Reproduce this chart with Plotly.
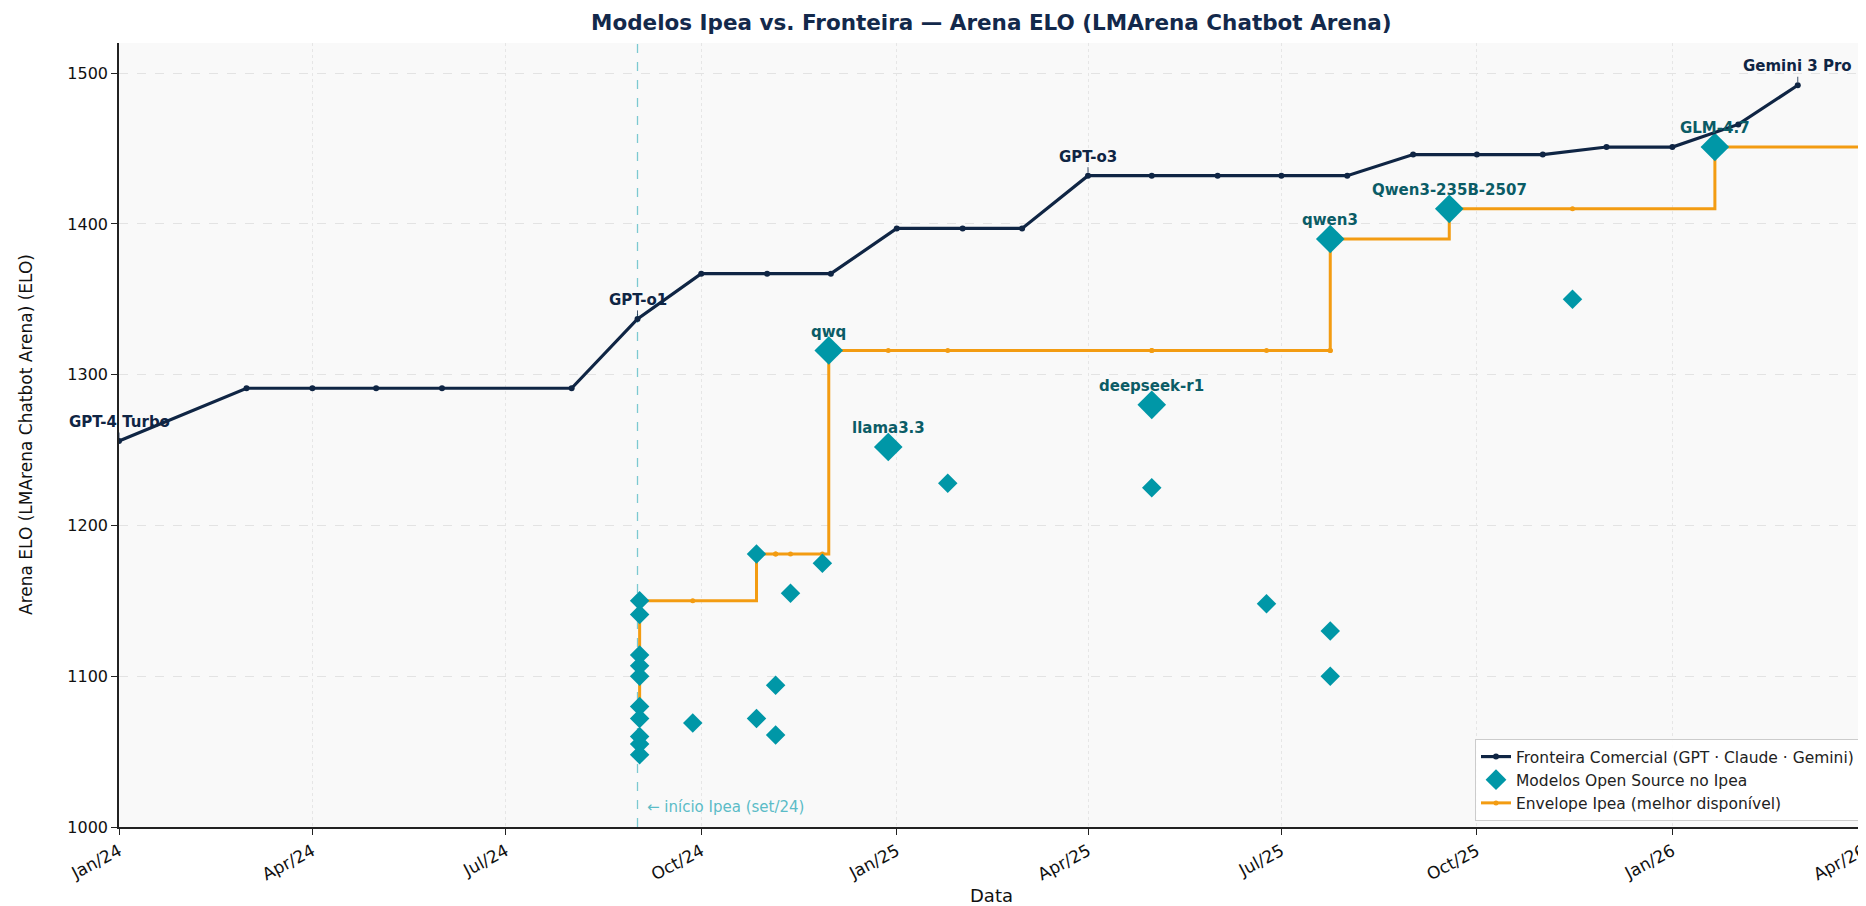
import plotly.graph_objects as go
import pandas as pd

# ---------------- data ----------------
chart_title = "Modelos Ipea vs. Fronteira — Arena ELO (LMArena Chatbot Arena)"
x_title = "Data"
y_title = "Arena ELO (LMArena Chatbot Arena) (ELO)"

frontier_dates = ["2024-01-01", "2024-03-01", "2024-04-01", "2024-05-01", "2024-06-01",
                  "2024-08-01", "2024-09-01", "2024-10-01", "2024-11-01", "2024-12-01",
                  "2025-01-01", "2025-02-01", "2025-03-01", "2025-04-01", "2025-05-01",
                  "2025-06-01", "2025-07-01", "2025-08-01", "2025-09-01", "2025-10-01",
                  "2025-11-01", "2025-12-01", "2026-01-01", "2026-02-01", "2026-03-01"]
frontier_elo = [1256, 1291, 1291, 1291, 1291,
                1291, 1337, 1367, 1367, 1367,
                1397, 1397, 1397, 1432, 1432,
                1432, 1432, 1432, 1446, 1446,
                1446, 1451, 1451, 1466, 1492]
frontier_label_dates = ["2024-01-01", "2024-09-01", "2025-04-01", "2026-03-01"]
frontier_label_names = ["GPT-4 Turbo", "GPT-o1", "GPT-o3", "Gemini 3 Pro"]

ipea_dates = ["2024-09-02", "2024-09-02", "2024-09-02", "2024-09-02", "2024-09-02",
              "2024-09-02", "2024-09-02", "2024-09-02", "2024-09-02", "2024-09-02",
              "2024-09-27", "2024-10-27", "2024-10-27", "2024-11-05", "2024-11-05",
              "2024-11-12", "2024-11-27", "2024-11-30", "2024-12-28", "2025-01-25",
              "2025-05-01", "2025-05-01", "2025-06-24", "2025-07-24", "2025-07-24",
              "2025-07-24", "2025-09-18", "2025-11-15", "2026-01-21"]
ipea_elo = [1080, 1150, 1141, 1114, 1107,
            1100, 1072, 1060, 1055, 1048,
            1069, 1181, 1072, 1094, 1061,
            1155, 1175, 1316, 1252, 1228,
            1280, 1225, 1148, 1130, 1100,
            1390, 1410, 1350, 1451]
ipea_names = ["", "", "", "", "",
              "", "", "", "", "",
              "", "", "", "", "",
              "", "", "qwq", "llama3.3", "",
              "deepseek-r1", "", "", "", "",
              "qwen3", "Qwen3-235B-2507", "", "GLM-4.7"]

ipea_start = "2024-09-01"
ipea_start_text = "← início Ipea (set/24)"
x_range = ["2024-01-01", "2026-04-01 04:00"]
x_tickvals = ["2024-01-01", "2024-04-01", "2024-07-01", "2024-10-01", "2025-01-01",
              "2025-04-01", "2025-07-01", "2025-10-01", "2026-01-01", "2026-04-01"]
x_ticktext = ["Jan/24", "Apr/24", "Jul/24", "Oct/24", "Jan/25",
              "Apr/25", "Jul/25", "Oct/25", "Jan/26", "Apr/26"]
y_tickvals = [1000, 1100, 1200, 1300, 1400, 1500]

# ---------------- styles ----------------
NAVY = "#0f2544"
TEAL = "#0097a7"
TEAL_TXT = "#0b5c66"
ORANGE = "#f39c12"
FONT = "DejaVu Sans"

W, H = 1858, 898            # page body has an 8px margin
ML, MR, MT, MB = 111, 2, 35, 79
PW, PH = W - ML - MR, H - MT - MB

# envelope = running best of Ipea models (post-step), extended to the axis end
ipea_df = pd.DataFrame({"date": pd.to_datetime(ipea_dates), "elo": ipea_elo})
ipea_df = ipea_df.sort_values("date", kind="stable")
env_x = list(ipea_df["date"]) + [pd.Timestamp(x_range[1])]
env_y = list(ipea_df["elo"].cummax()) + [ipea_df["elo"].max()]

fig = go.Figure()

fig.add_trace(go.Scatter(
    x=env_x, y=env_y, mode="lines+markers", line_shape="hv",
    line=dict(color=ORANGE, width=3), marker=dict(color=ORANGE, size=5),
    name="Envelope Ipea (melhor disponível)", legendrank=3))

fig.add_trace(go.Scatter(
    x=ipea_dates, y=ipea_elo, mode="markers",
    marker=dict(symbol="diamond", color=TEAL, opacity=1,
                size=[22 if n else 15 for n in ipea_names], line=dict(width=0)),
    name="Modelos Open Source no Ipea", legendrank=2))

fig.add_trace(go.Scatter(
    x=frontier_dates, y=frontier_elo, mode="lines+markers",
    line=dict(color=NAVY, width=3.2), marker=dict(color=NAVY, size=6),
    name="Fronteira Comercial (GPT · Claude · Gemini)", legendrank=1))

# vertical "start of Ipea" line
fig.add_shape(type="line", xref="x", yref="paper", x0=ipea_start, x1=ipea_start,
              y0=0, y1=1, line=dict(color="#7cc9d1", width=1.3, dash="dash"), layer="below")
fig.add_annotation(x=ipea_start, y=1013, xref="x", yref="y", xanchor="left", yanchor="middle",
                   xshift=7, text=ipea_start_text, showarrow=False,
                   font=dict(family=FONT, size=15, color="#5bbcc7"))

# frontier labels
for d, name in zip(frontier_label_dates, frontier_label_names):
    yv = frontier_elo[frontier_dates.index(d)]
    fig.add_annotation(x=d, y=yv, text=f"<b>{name}</b>", showarrow=True,
                       ax=0, ay=-19, arrowhead=0, arrowwidth=0.8, arrowcolor=NAVY,
                       standoff=3, font=dict(family=FONT, size=15, color=NAVY))

# Ipea labels
for d, v, n in zip(ipea_dates, ipea_elo, ipea_names):
    if n:
        fig.add_annotation(x=d, y=v, text=f"<b>{n}</b>", showarrow=False,
                           yshift=19, yanchor="middle",
                           font=dict(family=FONT, size=15, color=TEAL_TXT))

# axis titles
fig.add_annotation(x=0.5, y=-68 / PH, xref="paper", yref="paper", xanchor="center",
                   yanchor="middle", text=x_title, showarrow=False,
                   font=dict(family=FONT, size=18, color="#111"))
fig.add_annotation(x=-(ML - 18) / PW, y=0.5, xref="paper", yref="paper", xanchor="center",
                   yanchor="middle", text=y_title, textangle=-90, showarrow=False,
                   font=dict(family=FONT, size=17, color="#111"))

# title as a paper annotation so it can sit close to the top edge
fig.add_annotation(x=0.5, y=1 + 21 / PH, xref="paper", yref="paper", xanchor="center",
                   yanchor="middle", text=f"<b>{chart_title}</b>", showarrow=False,
                   font=dict(family=FONT, size=21.5, color="#13294b"))

fig.update_layout(
    width=W, height=H,
    template="none",
    paper_bgcolor="white", plot_bgcolor="#f9f9f9",
    font=dict(family=FONT, size=14, color="#111"),
    margin=dict(l=ML, r=MR, t=MT, b=MB),
    showlegend=True,
    legend=dict(x=1 - 4 / PW, y=6 / PH, xanchor="right", yanchor="bottom",
                bgcolor="rgba(255,255,255,0.9)", bordercolor="#cccccc", borderwidth=1,
                font=dict(family=FONT, size=15.5, color="#222")),
)

fig.update_xaxes(
    type="date", range=x_range, tickvals=x_tickvals, ticktext=x_ticktext,
    tickangle=-28, tickfont=dict(family=FONT, size=17, color="#111"),
    ticklabeloverflow="allow",
    ticks="outside", ticklen=6, tickcolor="#222",
    showline=True, linecolor="#222", linewidth=1.5, mirror=False,
    showgrid=True, gridcolor="#e6e6e6", griddash="dot", gridwidth=1,
    zeroline=False, automargin=False,
)
fig.update_yaxes(
    range=[1000, 1520], tickvals=y_tickvals,
    tickfont=dict(family=FONT, size=16, color="#111"),
    ticks="outside", ticklen=6, tickcolor="#222",
    showline=True, linecolor="#222", linewidth=1.5, mirror=False,
    showgrid=True, gridcolor="#e3e3e3", griddash="dash", gridwidth=1,
    zeroline=False, automargin=False,
)

fig.write_html("out.html")
